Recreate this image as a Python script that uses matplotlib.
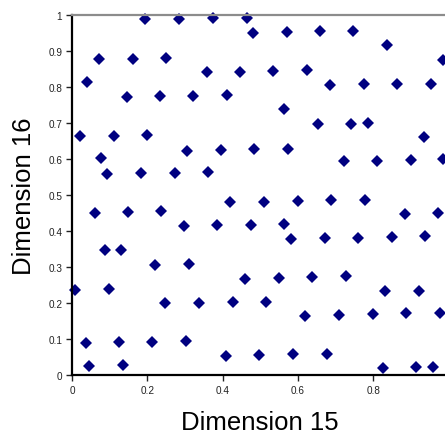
import matplotlib
matplotlib.use("Agg")
import matplotlib.pyplot as plt

plt.rcParams['font.family'] = ['Liberation Sans', 'DejaVu Sans']

# Dimension 15 (x) and Dimension 16 (y) coordinates
dim15 = [
    0.195, 0.285, 0.375, 0.464, 0.482, 0.570, 0.659, 0.747, 0.836, 0.986,
    0.073, 0.163, 0.251, 0.039, 0.358, 0.446, 0.535, 0.623, 0.684, 0.776,
    0.864, 0.953, 0.145, 0.234, 0.322, 0.413, 0.563, 0.653, 0.740, 0.786,
    0.021, 0.112, 0.200, 0.935, 0.306, 0.395, 0.484, 0.574, 0.722, 0.811,
    0.901, 0.986, 0.076, 0.094, 0.184, 0.273, 0.361, 0.421, 0.510, 0.599,
    0.688, 0.777, 0.060, 0.149, 0.237, 0.884, 0.973, 0.297, 0.386, 0.476,
    0.563, 0.583, 0.672, 0.760, 0.851, 0.938, 0.087, 0.131, 0.220, 0.311,
    0.460, 0.549, 0.637, 0.727, 0.008, 0.098, 0.831, 0.921, 0.248, 0.337,
    0.427, 0.514, 0.620, 0.708, 0.799, 0.888, 0.977, 0.036, 0.124, 0.212,
    0.303, 0.408, 0.496, 0.587, 0.677, 0.046, 0.135, 0.826, 0.914, 0.959,
]
dim16 = [
    0.987, 0.988, 0.990, 0.991, 0.950, 0.951, 0.954, 0.955, 0.915, 0.874,
    0.877, 0.877, 0.880, 0.812, 0.841, 0.842, 0.844, 0.846, 0.805, 0.807,
    0.807, 0.809, 0.772, 0.774, 0.775, 0.776, 0.737, 0.696, 0.698, 0.699,
    0.664, 0.664, 0.666, 0.660, 0.622, 0.624, 0.626, 0.627, 0.593, 0.594,
    0.597, 0.599, 0.601, 0.558, 0.560, 0.560, 0.563, 0.479, 0.479, 0.482,
    0.485, 0.487, 0.450, 0.452, 0.455, 0.447, 0.450, 0.413, 0.415, 0.416,
    0.418, 0.377, 0.379, 0.379, 0.382, 0.385, 0.346, 0.348, 0.304, 0.307,
    0.267, 0.269, 0.272, 0.275, 0.237, 0.239, 0.234, 0.234, 0.199, 0.201,
    0.203, 0.203, 0.165, 0.166, 0.169, 0.171, 0.172, 0.088, 0.091, 0.091,
    0.093, 0.053, 0.055, 0.057, 0.058, 0.025, 0.028, 0.019, 0.021, 0.023,
]
xticks = [0, 0.2, 0.4, 0.6, 0.8]
xtick_labels = ['0', '0.2', '0.4', '0.6', '0.8']
yticks = [0, 0.1, 0.2, 0.3, 0.4, 0.5, 0.6, 0.7, 0.8, 0.9, 1]
ytick_labels = ['0', '0.1', '0.2', '0.3', '0.4', '0.5', '0.6', '0.7', '0.8', '0.9', '1']

fig = plt.figure(figsize=(4.45, 4.39), dpi=100)
# plot area runs slightly past the right edge, as in the reference
ax = fig.add_axes([0.1618, 0.1435, 0.846, 0.8207])
ax.plot(dim15, dim16, linestyle='none', marker='D', markersize=5.8,
        markeredgewidth=0, color='#000080', clip_on=False)

ax.set_xlim(0, 1)
ax.set_ylim(0, 1)
ax.set_xticks(xticks)
ax.set_xticklabels(xtick_labels)
ax.set_yticks(yticks)
ax.set_yticklabels(ytick_labels)
ax.tick_params(direction='out', length=4, width=1, labelsize=7.2,
               colors='#222222', pad=3)

ax.spines['left'].set_linewidth(1.6)
ax.spines['bottom'].set_linewidth(1.6)
ax.spines['top'].set_color('#8c8c8c')
ax.spines['top'].set_linewidth(1.6)
ax.spines['right'].set_visible(False)

ax.set_xlabel('Dimension 15', fontsize=18.5, labelpad=11)
ax.set_ylabel('Dimension 16', fontsize=18.5, labelpad=9)

fig.savefig('out.png', dpi=100)
